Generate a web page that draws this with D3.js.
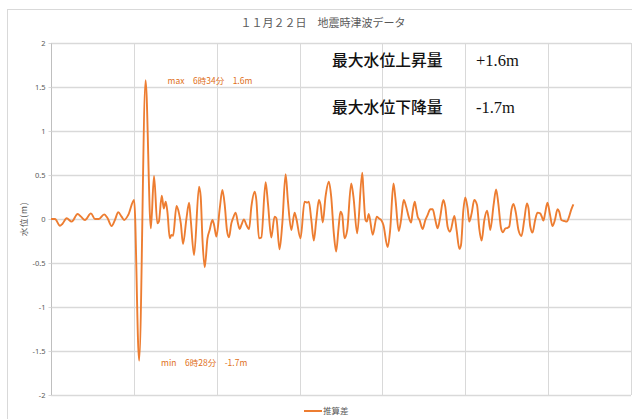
<!DOCTYPE html>
<html lang="ja">

<head>
    <meta charset="UTF-8">
    <script src="https://d3js.org/d3.v7.min.js"></script>
    <title>地震時津波データ</title>
</head>

<style>
    body {
        margin: 0;
        background-color: #fff;
    }
</style>

<body>
    <svg id="graph" width="632" height="419"></svg>
    <script>

        // title + labels
        const chartTitle = "１１月２２日　地震時津波データ"
        const yTitle = "水位(m)"
        const seriesName = "推算差"
        const maxNote = "max　6時34分　1.6m"
        const minNote = "min　6時28分　-1.7m"
        const summaryLabels = ["最大水位上昇量", "最大水位下降量"]
        const summaryValues = ["+1.6m", "-1.7m"]

        const yTicks = [2, 1.5, 1, 0.5, 0, -0.5, -1, -1.5, -2]
        const xGridMinutes = [0, 60, 120, 180, 240, 300, 360, 420]

        // [minutes from start, water level m]
        const samples = [
            [0, 0], [2.9, 0], [6.5, -0.076], [8.2, -0.057], [11.3, 0.008], [15.0, -0.03], [19.3, 0.057], [21.7, 0.027], [24.6, -0.011], [28.9, 0.064],
            [31.8, 0], [34.7, 0], [38.5, 0.053], [41.0, 0.008], [43.9, -0.08], [46.3, -0.011], [48.7, 0.076], [51.1, 0.027], [53.0, -0.011], [55.9, 0.045],
            [60.2, 0.216], [63.8, -1.61], [68.5, 1.576], [72.3, -0.106], [74.6, 0.49], [77.0, -0.05], [78.1, -0.03], [80.2, 0.265], [81.7, 0.12], [83.1, 0.197],
            [84.4, 0.064], [86.0, -0.22], [87.2, -0.18], [88.4, -0.19], [90.9, 0.148], [92.7, 0.064], [94.0, -0.05], [95.6, -0.284], [98.1, 0.008], [100.0, 0.186],
            [101.2, -0.011], [103.6, -0.41], [107.2, 0.367], [108.4, 0.254], [109.7, -0.24], [111.3, -0.55], [113.3, -0.22], [114.9, -0.125], [116.9, -0.011], [118.1, -0.068],
            [119.8, -0.2], [122.2, 0.12], [124.1, 0.33], [125.8, 0.16], [127.4, -0.125], [128.9, -0.208], [130.6, -0.05], [131.8, 0.008], [133.7, 0.072], [135.4, -0.05],
            [136.6, -0.114], [137.9, -0.068], [139.7, -0.004], [141.5, -0.068], [143.4, -0.117], [145.1, 0.14], [147.5, 0.31], [148.7, 0.216], [150.6, -0.22], [152.3, -0.21],
            [155.4, 0.417], [157.1, 0.178], [159.5, -0.21], [161.9, 0.027], [163.2, 0.008], [165.5, -0.345], [167.5, -0.05], [169.9, 0.51], [171.5, 0.216], [174.0, -0.125],
            [176.4, 0.072], [177.6, 0.008], [180.7, -0.22], [183.6, 0.197], [185.6, 0.186], [186.7, 0.197], [188.5, -0.011], [190.3, -0.246], [192.1, -0.011], [194.0, 0.216],
            [195.2, 0.16], [196.8, -0.04], [198.8, 0.254], [201.2, 0.424], [202.9, 0.254], [204.8, -0.163], [206.5, -0.37], [208.2, -0.106], [209.6, 0.083], [210.9, 0.045],
            [212.5, -0.22], [214.5, -0.125], [217.4, 0.405], [219.0, 0.254], [221.7, -0.163], [225.4, 0.525], [226.3, 0.3], [227.7, -0.011], [228.7, -0.03], [230.1, 0.057],
            [233.0, -0.18], [235.9, 0.027], [237.4, 0.008], [239.1, -0.011], [240.7, -0.068], [243.8, -0.32], [245.6, -0.125], [248.0, 0.405], [249.4, 0.235], [251.8, -0.136],
            [253.5, -0.011], [255.4, 0.216], [257.2, 0.14], [259.0, 0.027], [260.8, -0.04], [261.9, 0.083], [263.4, 0.197], [264.4, 0.12], [265.5, 0.027], [266.8, -0.011],
            [269.1, -0.114], [271.1, -0.011], [272.7, 0.045], [274.7, 0.11], [276.4, 0.11], [278.3, -0.011], [280.0, -0.106], [281.7, 0.008], [284.1, 0.216], [285.5, 0.14],
            [287.2, -0.087], [289.0, -0.144], [292.1, 0.034], [293.7, -0.125], [295.7, -0.34], [296.9, -0.295], [298.6, 0.1], [300.0, 0.246], [301.7, 0.12], [302.9, -0.03],
            [304.6, 0.064], [306.5, 0.216], [308.5, 0.16], [310.1, -0.106], [311.8, -0.246], [313.8, -0.011], [315.7, 0.095], [316.7, 0.027], [318.1, -0.125], [320.5, 0.16],
            [322.3, 0.337], [323.9, 0.178], [325.9, -0.106], [327.3, -0.152], [328.8, -0.11], [330.6, -0.1], [331.8, -0.087], [333.5, 0.11], [334.9, 0.17], [336.7, 0.064],
            [338.5, -0.125], [340.7, -0.193], [342.7, -0.011], [344.6, 0.178], [345.8, 0.12], [347.0, -0.08], [348.7, -0.155], [350.6, -0.011], [352.3, 0.072], [354.2, 0.064],
            [355.4, 0.027], [356.6, -0.019], [357.8, 0.064], [359.5, 0.186], [361.2, 0.064], [363.1, -0.08], [364.9, -0.011], [366.8, 0.11], [368.0, 0.083], [369.6, -0.011],
            [371.6, -0.023], [373.5, -0.03], [375.2, 0.027], [376.8, 0.11], [378.3, 0.167]
        ]

        const orange = "#ED7D31"
        const textGray = "#595959"
        const gridGray = "#d9d9d9"
        const cjk = "'Noto Sans CJK JP', 'Noto Sans', sans-serif"

        let svg = d3.select("#graph")
        const margin = { top: 43, right: 1, bottom: 24, left: 51 },
            width = +svg.attr("width") - margin.left - margin.right,
            height = +svg.attr("height") - margin.top - margin.bottom;

        // chart frame (right/bottom run off the picture)
        svg.append("rect")
            .attr("x", 7.5).attr("y", 9.5)
            .attr("width", 660).attr("height", 440)
            .attr("fill", "#fff")
            .attr("stroke", gridGray)

        let xScale = d3.scaleLinear().domain([0, 420]).range([margin.left, margin.left + width])
        let yScale = d3.scaleLinear().domain([-2, 2]).range([margin.top + height, margin.top])

        // vertical grid
        svg.append("g")
            .selectAll("line")
            .data(xGridMinutes.slice(1))
            .join("line")
            .attr("x1", d => Math.round(xScale(d)) + 0.5)
            .attr("x2", d => Math.round(xScale(d)) + 0.5)
            .attr("y1", yScale(2))
            .attr("y2", yScale(-2))
            .attr("stroke", gridGray)

        // horizontal grid + y axis
        svg.append("g")
            .attr("transform", `translate(${margin.left},0)`)
            .call(d3.axisLeft(yScale).tickValues(yTicks).tickSize(-width).tickFormat(""))
            .call(g => g.select(".domain").remove())
            .call(g => g.selectAll("line").attr("stroke", gridGray).attr("stroke-width", 1.3))

        svg.append("g")
            .attr("transform", `translate(${margin.left + 0.5},0)`)
            .call(d3.axisLeft(yScale).tickValues(yTicks).tickSize(3).tickPadding(3).tickFormat(d => String(d)))
            .call(g => g.select(".domain").attr("stroke", "#bfbfbf").attr("d", `M0,${yScale(2)}V${yScale(-2)}`))
            .call(g => g.selectAll(".tick line").attr("stroke", gridGray))
            .call(g => g.selectAll("text")
                .attr("fill", textGray)
                .style("font-size", "7.5px")
                .style("font-family", "'Noto Sans', sans-serif"))

        // title
        svg.append("text")
            .attr("x", 323).attr("y", 27)
            .attr("text-anchor", "middle")
            .attr("fill", textGray)
            .style("font", `11px ${cjk}`)
            .text(chartTitle)

        // y title
        svg.append("text")
            .attr("transform", `translate(27,${yScale(0)}) rotate(-90)`)
            .attr("text-anchor", "middle")
            .attr("fill", textGray)
            .style("font", `8.5px ${cjk}`)
            .attr("letter-spacing", 0.8)
            .text(yTitle)

        // the series
        const line = d3.line()
            .curve(d3.curveMonotoneX)
            .x(d => xScale(d[0]))
            .y(d => yScale(d[1]))

        svg.append("path")
            .datum(samples)
            .attr("fill", "none")
            .attr("stroke", orange)
            .attr("stroke-width", 1.9)
            .attr("stroke-linejoin", "round")
            .attr("d", line)

        // data labels on the extremes
        const hi = samples.reduce((a, b) => b[1] > a[1] ? b : a)
        const lo = samples.reduce((a, b) => b[1] < a[1] ? b : a)

        svg.append("text")
            .attr("x", xScale(hi[0]) + 22).attr("y", yScale(hi[1]) + 3.5)
            .attr("fill", "#E07020")
            .style("font", `8.5px ${cjk}`)
            .text(maxNote)

        svg.append("text")
            .attr("x", xScale(lo[0]) + 22).attr("y", yScale(lo[1]) + 5)
            .attr("fill", "#E07020")
            .style("font", `8.5px ${cjk}`)
            .text(minNote)

        // summary text block
        summaryLabels.forEach((lab, i) => {
            svg.append("text")
                .attr("x", 332).attr("y", 66 + i * 47)
                .attr("fill", "#111")
                .style("font", `500 15.8px ${cjk}`)
                .text(lab)
            svg.append("text")
                .attr("x", 476).attr("y", 66 + i * 47)
                .attr("fill", "#111")
                .style("font", "16.5px 'Liberation Serif', serif")
                .text(summaryValues[i])
        })

        // legend
        let legend = svg.append("g").attr("transform", "translate(304,411)")
        legend.append("line")
            .attr("x1", 0).attr("x2", 18)
            .attr("stroke", orange).attr("stroke-width", 2)
        legend.append("text")
            .attr("x", 19).attr("y", 3)
            .attr("fill", textGray)
            .style("font", `8.5px ${cjk}`)
            .text(seriesName)

    </script>
</body>

</html>
